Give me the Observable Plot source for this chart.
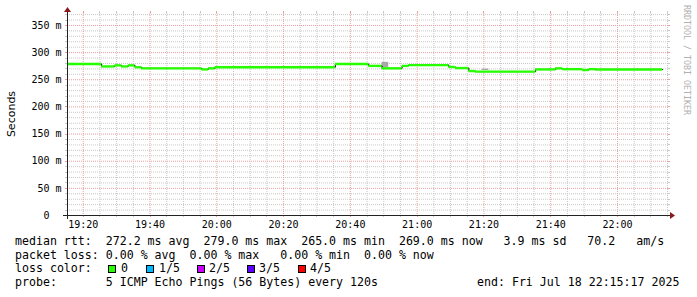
<!DOCTYPE html>
<html><head><meta charset="utf-8">
<script src="https://cdn.jsdelivr.net/npm/d3@7"></script>
<script src="https://cdn.jsdelivr.net/npm/@observablehq/plot@0.6"></script>
<style>
html,body{margin:0;padding:0;background:#fff}
body{width:697px;height:297px;position:relative;overflow:hidden}
#chart svg{display:block}
.row{position:absolute;left:15px;font-family:"DejaVu Sans Mono",monospace;font-size:11.6px;line-height:14px;white-space:pre;color:#000}
.sq{position:absolute;width:6px;height:6px;border:1px solid #000}
</style></head><body>
<div id="chart"></div>
<script>
// ---------- data ----------
const day = "2025-07-18";
const graphStart = "19:15:17";
const graphEnd = "22:15:17";
// step boundaries of the median rtt (n+1 values) and the median per step (ms)
const stepBounds = ["19:15:17","19:25:30","19:29:30","19:31:30","19:33:30","19:35:30","19:37:30",
  "19:55:30","19:57:30","19:59:30","20:35:30","20:45:30","20:49:30","20:55:30","20:57:30",
  "21:09:30","21:11:30","21:15:30","21:17:30","21:35:30","21:41:30","21:43:30","21:49:30",
  "21:51:30","21:53:30","22:13:30"];
const medianRtt = [279, 274.5, 276.5, 274.5, 276.5, 273,
  271, 269, 271, 273, 279, 275.5, 271, 275.5,
  277, 273.5, 271.5, 266, 265, 269, 271, 269.5,
  268, 269.5, 269];
// smoke (spread of the pings), ms
const smokeStart = ["20:49:30","21:19:30"];
const smokeEnd   = ["20:51:30","21:21:30"];
const smokeLow   = [272.5, 267];
const smokeHigh  = [282, 269.5];
// axes
const yTicks = [0, 50, 100, 150, 200, 250, 300, 350];
const xTickLabels = ["19:20","19:40","20:00","20:20","20:40","21:00","21:20","21:40","22:00"];
// legend / statistics text
const statRows = [
  "median rtt:  272.2 ms avg  279.0 ms max  265.0 ms min  269.0 ms now   3.9 ms sd   70.2   am/s",
  "packet loss: 0.00 % avg  0.00 % max   0.00 % min  0.00 % now",
  "loss color:",
  "probe:       5 ICMP Echo Pings (56 Bytes) every 120s"
];
const endText = "end: Fri Jul 18 22:15:17 2025";
const lossLabels = ["0","1/5","2/5","3/5","4/5"];
const lossColors = ["#26ff00","#00b8ff","#cc00ff","#5e00ff","#ff0000"];

// ---------- build ----------
const t = s => new Date(`${day}T${s.length === 5 ? s + ":00" : s}Z`);
const steps = medianRtt.map((v, i) => ({x1: t(stepBounds[i]), x2: t(stepBounds[i + 1]), y: v}));
const stepPts = steps.flatMap(d => [{x: d.x1, y: d.y}, {x: d.x2, y: d.y}]);
const smoke = smokeStart.map((s, i) => ({x1: t(s), x2: t(smokeEnd[i]), y1: smokeLow[i], y2: smokeHigh[i]}));
const xDomain = [t(graphStart), t(graphEnd)];
const minor5 = d3.utcMinute.every(5).range(xDomain[0], xDomain[1]).filter(d => d.getUTCMinutes() % 20 !== 0);
const major20 = xTickLabels.map(t);
const yMinor = d3.range(10, 371, 10).filter(v => v % 50 !== 0);
const yMajor = yTicks.filter(v => v > 0);

const minorColor = "#c8c8c8", majorColor = "#eaa0a0";
const chart = Plot.plot({
  width: 697, height: 233,
  marginLeft: 67, marginRight: 29, marginTop: 13, marginBottom: 18,
  style: {background: "white", fontFamily: "'DejaVu Sans Mono', monospace", fontSize: "10px", color: "#000"},
  x: {type: "utc", domain: xDomain},
  y: {domain: [0, 372]},
  marks: [
    Plot.gridY(yMinor, {stroke: minorColor, strokeOpacity: 1, strokeDasharray: "1,1"}),
    Plot.gridX(minor5, {stroke: minorColor, strokeOpacity: 1, strokeDasharray: "1,1"}),
    Plot.gridY(yMajor, {stroke: majorColor, strokeOpacity: 1, strokeDasharray: "1,1"}),
    Plot.gridX(major20, {stroke: majorColor, strokeOpacity: 1, strokeDasharray: "1,1"}),
    Plot.rect(smoke, {x1: "x1", x2: "x2", y1: "y1", y2: "y2", fill: "#a8a8a8"}),
    Plot.line(stepPts, {x: "x", y: "y", stroke: "#000", strokeWidth: 1}),
    Plot.ruleY(steps, {x1: "x1", x2: "x2", y: "y", stroke: lossColors[0], strokeWidth: 2.4}),
    Plot.axisY(yTicks, {tickSize: 0, tickPadding: 6, label: null,
      tickFormat: d => d === 0 ? "0\u00a0\u00a0" : d + " m"}),
    Plot.axisX(major20, {tickSize: 0, tickPadding: 5, label: null, tickFormat: d3.utcFormat("%H:%M")})
  ]
});
document.getElementById("chart").appendChild(chart);

// axis lines, tick stubs, arrows and side labels
const svg = d3.select(chart);
const sx = chart.scale("x"), sy = chart.scale("y");
const x0 = sx.range[0], x1 = sx.range[1], y0 = sy.range[0], yTop = sy.range[1];
const stub = (xa, ya, xb, yb, c) => svg.append("line").attr("x1", xa).attr("y1", ya).attr("x2", xb).attr("y2", yb).attr("stroke", c);
minor5.forEach(d => { const px = Math.round(sx.apply(d)) + 0.5; stub(px, y0, px, y0 + 2, minorColor); stub(px, yTop - 2, px, yTop, minorColor); });
major20.forEach(d => { const px = Math.round(sx.apply(d)) + 0.5; stub(px, y0, px, y0 + 2, majorColor); stub(px, yTop - 2, px, yTop, majorColor); });
yMinor.forEach(v => { const py = Math.round(sy.apply(v)) + 0.5; stub(x0 - 2, py, x0, py, minorColor); stub(x1, py, x1 + 2, py, minorColor); });
yMajor.forEach(v => { const py = Math.round(sy.apply(v)) + 0.5; stub(x0 - 2, py, x0, py, majorColor); stub(x1, py, x1 + 2, py, majorColor); });
stub(x0 - 4, y0 + 0.5, x1 + 3, y0 + 0.5, "#222");
stub(x0 + 0.5, y0 + 4, x0 + 0.5, yTop - 2, "#222");
svg.append("path").attr("d", `M${x1 + 2},${y0 - 3} L${x1 + 7},${y0 + 0.5} L${x1 + 2},${y0 + 4} Z`).attr("fill", "#8b1a1a");
svg.append("path").attr("d", `M${x0 - 3},${yTop - 1} L${x0 + 0.5},${yTop - 6} L${x0 + 4},${yTop - 1} Z`).attr("fill", "#8b1a1a");
svg.append("text").attr("transform", `translate(15,${(y0 + yTop) / 2}) rotate(-90)`)
  .attr("text-anchor", "middle").attr("font-family", "'DejaVu Sans', sans-serif").attr("font-size", 11)
  .attr("fill", "#000").text("Seconds");
svg.append("text").attr("transform", `translate(684,5) rotate(90)`).attr("text-anchor", "start")
  .attr("font-family", "'DejaVu Sans Mono', monospace").attr("font-size", 8.3)
  .attr("fill", "#b0b0b0").text("RRDTOOL / TOBI OETIKER");

// statistics rows
const rowTops = [234, 247.5, 261, 275];
statRows.forEach((s, i) => {
  const div = document.createElement("div");
  div.className = "row"; div.style.top = rowTops[i] + "px"; div.textContent = s;
  document.body.appendChild(div);
});
const endDiv = document.createElement("div");
endDiv.className = "row"; endDiv.style.left = "477px"; endDiv.style.top = rowTops[3] + "px"; endDiv.textContent = endText;
document.body.appendChild(endDiv);
const sqX = [108, 146, 197, 247, 298], lblX = [121, 159, 209, 259, 310];
lossLabels.forEach((l, i) => {
  const sq = document.createElement("div");
  sq.className = "sq"; sq.style.left = sqX[i] + "px"; sq.style.top = "265px"; sq.style.background = lossColors[i];
  document.body.appendChild(sq);
  const lb = document.createElement("div");
  lb.className = "row"; lb.style.left = lblX[i] + "px"; lb.style.top = rowTops[2] + "px"; lb.textContent = l;
  document.body.appendChild(lb);
});
</script>
</body></html>
